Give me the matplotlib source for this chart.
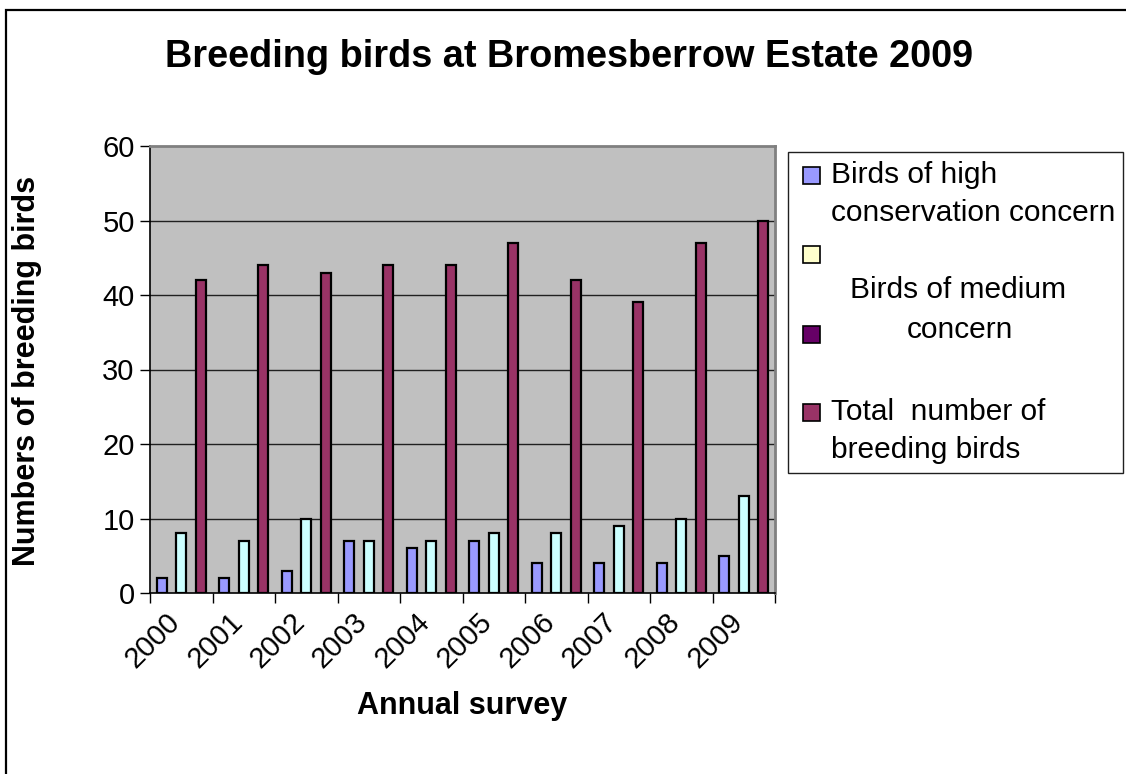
import matplotlib
matplotlib.use("Agg")
import matplotlib.pyplot as plt
from matplotlib.patches import Rectangle
import numpy as np

years = ["2000", "2001", "2002", "2003", "2004", "2005", "2006", "2007", "2008", "2009"]
high_concern = [2, 2, 3, 7, 6, 7, 4, 4, 4, 5]
medium_concern = [8, 7, 10, 7, 7, 8, 8, 9, 10, 13]
total_birds = [42, 44, 43, 44, 44, 47, 42, 39, 47, 50]
y_ticks = [0, 10, 20, 30, 40, 50, 60]

c_high = "#9999FF"
c_med = "#CCFFFF"
c_total = "#993366"
c_leg_yellow = "#FFFFCC"
c_leg_purple = "#660066"

plt.rcParams['font.family'] = ['Liberation Sans', 'DejaVu Sans']

W, H = 1126, 774
fig = plt.figure(figsize=(W / 100, H / 100), dpi=100)
fig.patch.set_facecolor("white")

def fx(px):
    return px / W

def fy(py):
    return 1 - py / H

# outer chart frame
fig.patches.append(Rectangle((fx(6), fy(800)), fx(1200) - fx(6), fy(10) - fy(800),
                             transform=fig.transFigure, fill=False,
                             edgecolor="black", linewidth=1.6, zorder=0))

left, right, top, bottom = 150, 775, 146, 593
ax = fig.add_axes([fx(left), fy(bottom), fx(right) - fx(left), fy(top) - fy(bottom)])
ax.set_facecolor("#C0C0C0")

x = np.arange(len(years))
bw = 0.16
step = 0.31
ax.bar(x - step, high_concern, bw, color=c_high, edgecolor="black", linewidth=1.6, zorder=3)
ax.bar(x, medium_concern, bw, color=c_med, edgecolor="black", linewidth=1.6, zorder=3)
ax.bar(x + step, total_birds, bw, color=c_total, edgecolor="black", linewidth=1.6, zorder=3)

ax.set_xlim(-0.5, len(years) - 0.5)
ax.set_ylim(0, 60)
ax.set_yticks(y_ticks)
ax.set_yticklabels([str(v) for v in y_ticks], fontsize=21)
ax.tick_params(axis='y', direction='out', length=7, width=1, pad=4)

for v in y_ticks[1:-1]:
    ax.axhline(v, color="#202020", linewidth=1.0, zorder=1)

ax.set_xticks(np.arange(len(years) + 1) - 0.5, minor=False)
ax.set_xticklabels([])
ax.tick_params(axis='x', which='major', direction='out', length=7, width=1)
ax.set_xticks(x, minor=True)
ax.set_xticklabels(years, minor=True, fontsize=21, rotation=45, ha='right', va='baseline',
                   rotation_mode='anchor')
ax.tick_params(axis='x', which='minor', length=0, pad=22)

for s in ['top', 'right']:
    ax.spines[s].set_color("#808080")
    ax.spines[s].set_linewidth(2)
for s in ['left', 'bottom']:
    ax.spines[s].set_color("black")
    ax.spines[s].set_linewidth(1.2)

fig.text(fx(569), fy(57), "Breeding birds at Bromesberrow Estate 2009", fontsize=27.3,
         fontweight='bold', ha='center', va='center')
fig.text(fx(27), fy(371), "Numbers of breeding birds", fontsize=22, fontweight='bold',
         rotation=90, ha='center', va='center')
fig.text(fx(462), fy(706), "Annual survey", fontsize=22, fontweight='bold',
         ha='center', va='center')

# legend (drawn manually to match the original layout)
fig.patches.append(Rectangle((fx(788), fy(473)), fx(1123) - fx(788), fy(152) - fy(473),
                             transform=fig.transFigure, facecolor="white",
                             edgecolor="#202020", linewidth=1.0, zorder=2))
squares = [(175.5, c_high), (254.5, c_leg_yellow), (334, c_leg_purple), (412.5, c_total)]
for cy, col in squares:
    fig.patches.append(Rectangle((fx(803), fy(cy + 8.5)), fx(820) - fx(803), fy(cy - 8.5) - fy(cy + 8.5),
                                 transform=fig.transFigure, facecolor=col,
                                 edgecolor="black", linewidth=1.2, zorder=3))
lfs = 21.5
fig.text(fx(831), fy(175), "Birds of high", fontsize=lfs, ha='left', va='center')
fig.text(fx(831), fy(213), "conservation concern", fontsize=lfs, ha='left', va='center')
fig.text(fx(958), fy(290), "Birds of medium", fontsize=lfs, ha='center', va='center')
fig.text(fx(960), fy(330), "concern", fontsize=lfs, ha='center', va='center')
fig.text(fx(831), fy(412), "Total  number of", fontsize=lfs, ha='left', va='center')
fig.text(fx(831), fy(450), "breeding birds", fontsize=lfs, ha='left', va='center')

fig.savefig("out.png", dpi=100)
